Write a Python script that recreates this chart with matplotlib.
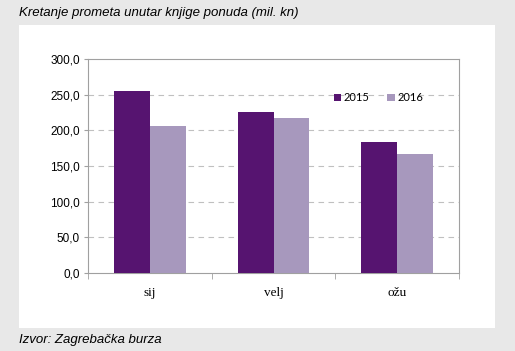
import numpy as np
import matplotlib.pyplot as plt
from matplotlib.patches import Rectangle

categories = ["sij", "velj", "ožu"]
years = ["2015", "2016"]
values_2015 = [255.0, 225.5, 183.5]
values_2016 = [206.0, 217.0, 167.0]
yticks = [0, 50, 100, 150, 200, 250, 300]

c15 = "#561470"
c16 = "#a798bd"
grey = "#a0a0a0"

fig = plt.figure(figsize=(5.15, 3.51), dpi=100)
fig.patch.set_facecolor("#e8e8e8")

# white panel behind the chart
fig.add_artist(Rectangle((19 / 515, 1 - 328 / 351), (495 - 19) / 515, (328 - 25) / 351,
                         transform=fig.transFigure, facecolor="white", edgecolor="none", zorder=0))

fig.text(19 / 515, 1 - 13 / 351, "Kretanje prometa unutar knjige ponuda (mil. kn)",
         fontsize=9.5, style="italic", family="Liberation Sans", va="center", ha="left")
fig.text(19 / 515, 1 - 340 / 351, "Izvor: Zagrebačka burza",
         fontsize=9.5, style="italic", family="Liberation Sans", va="center", ha="left")

ax = fig.add_axes([88 / 515, 1 - 273 / 351, (459 - 88) / 515, (273 - 59) / 351])
ax.set_facecolor("white")

x = np.arange(len(categories))
w = 0.29
ax.bar(x - w / 2, values_2015, w, color=c15, label=years[0], zorder=3)
ax.bar(x + w / 2, values_2016, w, color=c16, label=years[1], zorder=3)

ax.set_xlim(-0.5, len(categories) - 0.5)
ax.set_ylim(0, 300)
ax.set_yticks(yticks)
ax.set_yticklabels([f"{v:.1f}".replace(".", ",") for v in yticks],
                   fontsize=8.5, family="Liberation Sans")
ax.set_xticks(x)
ax.set_xticklabels(categories, fontsize=9.5, family="Liberation Serif")
ax.set_xticks(np.arange(len(categories) + 1) - 0.5, minor=True)
ax.tick_params(axis="x", which="major", length=0, pad=10)
ax.tick_params(axis="x", which="minor", length=4, color=grey, direction="out")
ax.tick_params(axis="y", length=3, color=grey, direction="out", pad=3)

for y in yticks[1:-1]:
    ax.axhline(y, color="#c0c0c0", lw=0.8, ls=(0, (5, 4)), zorder=1)

for s in ax.spines.values():
    s.set_color(grey)
    s.set_linewidth(0.8)

leg = ax.legend(loc="center right", bbox_to_anchor=(0.93, 0.818), ncol=2, frameon=False,
                handlelength=0.7, handleheight=0.7, handletextpad=0.2,
                columnspacing=1.6, prop={"family": "Lato", "size": 8})

fig.savefig("out.png", dpi=100, facecolor=fig.get_facecolor())
